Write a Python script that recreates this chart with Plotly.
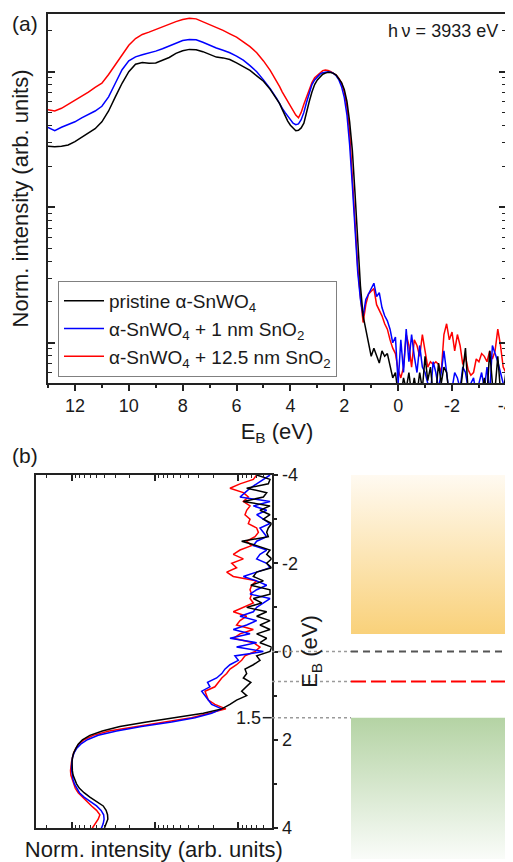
import plotly.graph_objects as go

# The page body adds an 8px margin, so the figure is sized to fill the 513x862 window.
OFF = 8
W, H = 513 - OFF, 862 - OFF


def X(sx):
    return (sx - OFF) / W


def Y(sy):
    return 1 - (sy - OFF) / H


# ---------------- data ----------------
energy_eV = [13.0, 12.75, 12.5, 12.25, 12.0, 11.75, 11.5, 11.25, 11.0, 10.75,
             10.5, 10.25, 10.0, 9.75, 9.5, 9.25, 9.0, 8.75, 8.5, 8.25,
             8.0, 7.75, 7.5, 7.25, 7.0, 6.75, 6.5, 6.25, 6.0, 5.75,
             5.5, 5.25, 5.0, 4.75, 4.5,
             4.4, 4.3, 4.2, 4.1, 4.0, 3.9, 3.8, 3.7, 3.6, 3.5,
             3.4, 3.3, 3.2, 3.1, 3.0, 2.9, 2.8, 2.7, 2.6, 2.5,
             2.4, 2.3, 2.2, 2.1, 2.0, 1.9, 1.8, 1.7, 1.6, 1.5,
             1.4, 1.3, 1.2, 1.1, 1.0, 0.9, 0.8, 0.7, 0.6, 0.5,
             0.4, 0.3, 0.2, 0.1, 0.0,
             -0.1, -0.2, -0.3, -0.4, -0.5, -0.6, -0.7, -0.8, -0.9, -1.0,
             -1.1, -1.2, -1.3, -1.4, -1.5, -1.6, -1.7, -1.8, -1.9, -2.0,
             -2.1, -2.2, -2.3, -2.4, -2.5, -2.6, -2.7, -2.8, -2.9, -3.0,
             -3.1, -3.2, -3.3, -3.4, -3.5, -3.6, -3.7, -3.8, -3.9, -4.0]

pristine = [0.282, 0.279, 0.282, 0.288, 0.305, 0.327, 0.351, 0.380, 0.427, 0.513,
            0.653, 0.822, 1.000, 1.135, 1.169, 1.153, 1.161, 1.216, 1.274, 1.365,
            1.429, 1.462, 1.455, 1.406, 1.334, 1.282, 1.265, 1.230, 1.161, 1.096,
            1.023, 0.933, 0.851, 0.741, 0.631,
            0.582, 0.525, 0.473, 0.432, 0.403, 0.385, 0.367, 0.370, 0.385, 0.417,
            0.507, 0.603, 0.708, 0.804, 0.871, 0.923, 0.959, 0.977, 0.989, 0.986,
            0.973, 0.944, 0.891, 0.832, 0.741, 0.603, 0.427, 0.263, 0.126, 0.0562,
            0.0263, 0.0158, 0.0126, 0.0105, 0.00794, 0.00912, 0.00794, 0.00708, 0.00871, 0.00794,
            0.00832, 0.00661, 0.00550, 0.00603, 0.00417,
            0.00398, 0.00550, 0.00457, 0.00603, 0.00417, 0.00550, 0.00417, 0.00603, 0.00457, 0.00794,
            0.00525, 0.00661, 0.00417, 0.00417, 0.00708, 0.00501, 0.00661, 0.00603, 0.00398, 0.00457,
            0.00398, 0.00457, 0.00417, 0.00603, 0.00912, 0.00437, 0.00457, 0.00437, 0.00398, 0.00501,
            0.00417, 0.00550, 0.00417, 0.00871, 0.00501, 0.00457, 0.00794, 0.00437, 0.00417, 0.00603]

sno2_1nm = [0.389, 0.367, 0.389, 0.407, 0.427, 0.457, 0.484, 0.513, 0.556, 0.653,
            0.822, 1.035, 1.202, 1.288, 1.334, 1.374, 1.419, 1.479, 1.549, 1.633,
            1.698, 1.730, 1.722, 1.652, 1.567, 1.496, 1.439, 1.380, 1.303, 1.216,
            1.109, 1.000, 0.871, 0.750, 0.631,
            0.575, 0.537, 0.501, 0.468, 0.437, 0.417, 0.407, 0.412, 0.442, 0.501,
            0.596, 0.708, 0.804, 0.871, 0.923, 0.959, 0.984, 0.995, 1.000, 0.993,
            0.973, 0.933, 0.871, 0.776, 0.646, 0.479, 0.288, 0.145, 0.0631, 0.0331,
            0.0209, 0.0158, 0.0209, 0.0229, 0.0251, 0.0275, 0.0219, 0.0234, 0.0182, 0.0158,
            0.0145, 0.0126, 0.0100, 0.0110, 0.00501,
            0.0105, 0.00603, 0.0126, 0.00724, 0.0115, 0.00794, 0.00603, 0.00955, 0.00661, 0.00603,
            0.00501, 0.00417, 0.00724, 0.00603, 0.00457, 0.00603, 0.00871, 0.00603, 0.00417, 0.00457,
            0.00603, 0.00550, 0.00457, 0.00661, 0.00603, 0.00457, 0.00501, 0.00550, 0.00417, 0.00501,
            0.00603, 0.00457, 0.00661, 0.00417, 0.00955, 0.00832, 0.00724, 0.00603, 0.00501, 0.00417]

sno2_12nm = [0.525, 0.513, 0.537, 0.575, 0.610, 0.661, 0.708, 0.767, 0.822, 0.955,
             1.135, 1.349, 1.567, 1.758, 1.884, 1.959, 2.056, 2.138, 2.239, 2.344,
             2.427, 2.483, 2.455, 2.344, 2.239, 2.113, 2.018, 1.905, 1.799, 1.660,
             1.531, 1.380, 1.202, 1.023, 0.851,
             0.776, 0.708, 0.653, 0.603, 0.562, 0.513, 0.479, 0.457, 0.501, 0.575,
             0.653, 0.750, 0.832, 0.902, 0.944, 0.989, 1.019, 1.028, 1.023, 1.000,
             0.973, 0.944, 0.891, 0.822, 0.708, 0.550, 0.355, 0.174, 0.0759, 0.0363,
             0.0219, 0.0141, 0.0191, 0.0229, 0.0240, 0.0251, 0.0191, 0.0174, 0.0158, 0.0138,
             0.0126, 0.0105, 0.00912, 0.00832, 0.00631,
             0.00550, 0.00661, 0.0115, 0.00955, 0.00661, 0.0105, 0.00955, 0.00794, 0.0115, 0.00871,
             0.00661, 0.00724, 0.00692, 0.00724, 0.00692, 0.00603, 0.0115, 0.0138, 0.0105, 0.0120,
             0.00871, 0.0115, 0.00955, 0.00692, 0.00794, 0.00631, 0.00575, 0.00603, 0.00759, 0.00724,
             0.00832, 0.00794, 0.00724, 0.00871, 0.00759, 0.00871, 0.0126, 0.00955, 0.00661, 0.00603]

series_names = ["pristine α-SnWO<sub>4</sub>",
                "α-SnWO<sub>4</sub> + 1 nm SnO<sub>2</sub>",
                "α-SnWO<sub>4</sub> + 12.5 nm SnO<sub>2</sub>"]
series_values = [pristine, sno2_1nm, sno2_12nm]
series_colors = ["#000000", "#0000FF", "#FF0000"]

x_ticks_a = [12, 10, 8, 6, 4, 2, 0, -2, -4]
x_ticklabels_a = ["12", "10", "8", "6", "4", "2", "0", "-2", "-4"]
eb_ticks_b = [-4, -2, 0, 2, 4]
eb_ticklabels_b = ["-4", "-2", "0", "2", "4"]
intensity_decades = [0.01, 0.1, 1]

# band-diagram levels (eV)
cb_top_eV, cbm_eV = -4.0, -0.4
vbm_eV, vb_bottom_eV = 1.5, 4.7
fermi_pristine_eV = 0.0
fermi_coated_eV = 0.68
photon_label = "h\u2009ν = 3933 eV"

# ---------------- figure ----------------
FONT = "Liberation Sans, Arial, sans-serif"
AX = "#222222"
fig = go.Figure()

draw_order = [2, 1, 0]
for i in draw_order:
    fig.add_trace(go.Scatter(
        x=energy_eV, y=series_values[i], mode="lines", name=series_names[i],
        line=dict(color=series_colors[i], width=1.5),
        legendgroup=f"g{i}", legendrank=i + 1, xaxis="x", yaxis="y"))
for i in draw_order:
    fig.add_trace(go.Scatter(
        x=series_values[i], y=energy_eV, mode="lines", name=series_names[i],
        line=dict(color=series_colors[i], width=1.5), showlegend=False,
        xaxis="x2", yaxis="y2"))

# band diagram (gradient boxes)
bx0 = (351 - 272) / (513 - 272)
fig.add_trace(go.Scatter(
    x=[bx0, 1, 1, bx0, bx0], y=[cb_top_eV, cb_top_eV, cbm_eV, cbm_eV, cb_top_eV],
    mode="lines", fill="toself", line=dict(width=0), showlegend=False, hoverinfo="skip",
    fillgradient=dict(type="vertical",
                      colorscale=[[0, "rgb(249,209,122)"], [1, "rgb(255,250,241)"]]),
    xaxis="x3", yaxis="y3"))
fig.add_trace(go.Scatter(
    x=[bx0, 1, 1, bx0, bx0], y=[vbm_eV, vbm_eV, vb_bottom_eV, vb_bottom_eV, vbm_eV],
    mode="lines", fill="toself", line=dict(width=0), showlegend=False, hoverinfo="skip",
    fillgradient=dict(type="vertical",
                      colorscale=[[0, "rgb(250,252,249)"], [1, "rgb(180,211,164)"]]),
    xaxis="x3", yaxis="y3"))

minor_log = [m * 10.0 ** k for k in (-3, -2, -1, 0) for m in range(2, 10)]

fig.update_layout(
    template="none",
    width=W, height=H, margin=dict(l=0, r=0, t=0, b=0, autoexpand=False),
    paper_bgcolor="white", plot_bgcolor="white",
    font=dict(family=FONT, size=18, color="#1a1a1a"),
    showlegend=True,
    legend=dict(x=X(58), y=Y(281), xanchor="left", yanchor="top",
                bordercolor="#808080", borderwidth=1, bgcolor="white",
                font=dict(size=19), tracegroupgap=0, itemwidth=40),
    xaxis=dict(domain=[X(48), X(506)], anchor="y", range=[13, -4.005], automargin=False,
               tickmode="array", tickvals=x_ticks_a, ticktext=x_ticklabels_a,
               ticklabeloverflow="allow",
               ticks="outside", ticklen=6, tickwidth=1.5, tickcolor=AX,
               minor=dict(dtick=1, ticks="outside", ticklen=3, tickwidth=1.5, tickcolor=AX),
               showline=True, linecolor=AX, linewidth=1.5, mirror=True,
               showgrid=False, zeroline=False,
               title=dict(text="E<sub>B</sub> (eV)", standoff=8)),
    yaxis=dict(domain=[Y(383), Y(14)], anchor="x", type="log", automargin=False,
               range=[-2.297, 0.426], tickmode="array", tickvals=intensity_decades,
               showticklabels=False, ticks="inside", ticklen=7, tickwidth=1.5, tickcolor=AX,
               minor=dict(tickmode="array", tickvals=minor_log, ticks="inside",
                          ticklen=4, tickwidth=1.2, tickcolor=AX),
               showline=True, linecolor=AX, linewidth=1.5, mirror="ticks",
               showgrid=False, zeroline=False,
               title=dict(text="Norm. intensity (arb. units)", standoff=17)),
    xaxis2=dict(domain=[X(36), X(271.7)], anchor="y2", type="log", automargin=False,
                range=[0.426, -2.40], tickmode="array", tickvals=intensity_decades,
                showticklabels=False, ticks="inside", ticklen=6, tickwidth=1.5, tickcolor=AX,
                minor=dict(tickmode="array", tickvals=minor_log, ticks="inside",
                           ticklen=3, tickwidth=1.2, tickcolor=AX),
                showline=True, linecolor=AX, linewidth=1.5, mirror="ticks",
                showgrid=False, zeroline=False,
                title=dict(text="Norm. intensity (arb. units)", standoff=13)),
    yaxis2=dict(domain=[Y(828), Y(475)], anchor="x2", side="right", automargin=False,
                range=[4, -4], tickmode="array", tickvals=eb_ticks_b, ticktext=eb_ticklabels_b,
                ticklabeloverflow="allow",
                ticks="outside", ticklen=5, tickwidth=1.5, tickcolor=AX,
                minor=dict(tickmode="array", tickvals=[-3, -1, 1, 3], ticks="outside",
                           ticklen=4, tickwidth=1.5, tickcolor=AX),
                showline=True, linecolor=AX, linewidth=1.5, mirror=True,
                showgrid=False, zeroline=False,
                title=dict(text="E<sub>B</sub> (eV)", standoff=5)),
    xaxis3=dict(domain=[X(272), 1], anchor="y3", range=[0, 1], visible=False, automargin=False),
    yaxis3=dict(domain=[0, Y(475)], anchor="x3", range=[4.766, -4], visible=False,
                automargin=False),
)

# dotted guide lines from E_B axis to band diagram
for lvl in (fermi_pristine_eV, fermi_coated_eV, vbm_eV):
    fig.add_shape(type="line", xref="x3", yref="y3", x0=0, x1=bx0, y0=lvl, y1=lvl,
                  line=dict(color="#9a9a9a", width=1.5, dash="dot"))
fig.add_shape(type="line", xref="x3", yref="y3", x0=bx0, x1=1,
              y0=fermi_pristine_eV, y1=fermi_pristine_eV,
              line=dict(color="#555555", width=2, dash="7px,5px"))
fig.add_shape(type="line", xref="x3", yref="y3", x0=bx0, x1=1,
              y0=fermi_coated_eV, y1=fermi_coated_eV,
              line=dict(color="#FF0000", width=2, dash="15px,5px"))
# inner tick + label for the VBM at 1.5 eV
fig.add_shape(type="line", xref="x2 domain", yref="y2", x0=0.962, x1=1, y0=vbm_eV, y1=vbm_eV,
              line=dict(color=AX, width=1.5))
fig.add_annotation(xref="x2 domain", yref="y2", x=0.962, y=vbm_eV, text="1.5",
                   showarrow=False, xanchor="right", yanchor="middle", font=dict(size=18))

fig.add_annotation(xref="paper", yref="paper", x=X(10), y=Y(23), text="(a)",
                   showarrow=False, xanchor="left", yanchor="middle", font=dict(size=21))
fig.add_annotation(xref="paper", yref="paper", x=X(10), y=Y(455), text="(b)",
                   showarrow=False, xanchor="left", yanchor="middle", font=dict(size=21))
fig.add_annotation(xref="paper", yref="paper", x=X(500), y=Y(31), text=photon_label,
                   showarrow=False, xanchor="right", yanchor="middle", font=dict(size=18))

fig.write_html("out.html")
